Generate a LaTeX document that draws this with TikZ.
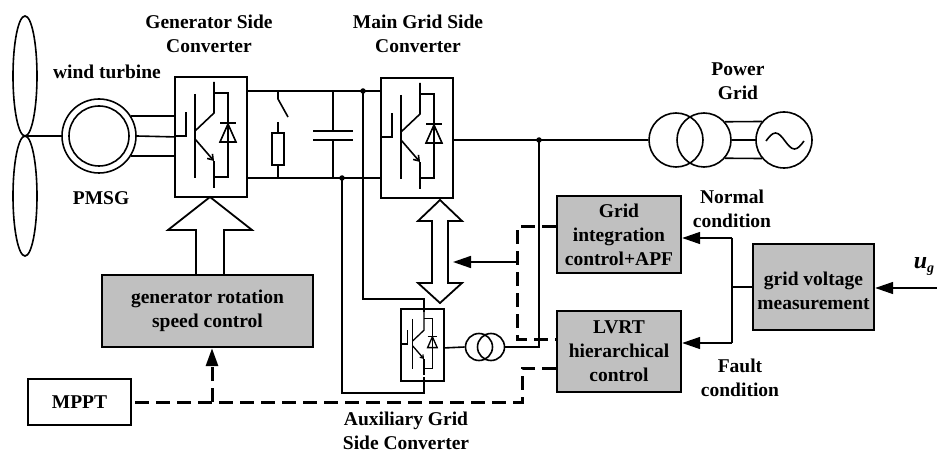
\documentclass[tikz,border=0pt]{standalone}
\usepackage{fontspec}
\setmainfont{Liberation Serif}
\usetikzlibrary{arrows.meta,calc}
\definecolor{boxgray}{RGB}{192,192,192}
\newcommand\igbtdraw[3]{%
\begin{scope}[shift={(#1.north west)}, scale=#2, line width=#3]
 \draw (0,60)--(12,60)--(12,36);
 \draw (21,18)--(21,102);
 \draw (21,55)--(40,37)--(40,6);
 \draw[-{Straight Barb[length=5pt,width=7pt,scale=#2]}] (21,63)--(40,85);
 \draw (40,85)--(40,112);
 \draw (40,17)--(54,17)--(54,101)--(40,101);
 \draw (46,66)--(62,66)--(54,48)--cycle;
 \draw (46,47)--(62,47);
\end{scope}}
\begin{document}
\begin{tikzpicture}[x=1pt,y=-1pt, line width=1.6pt,
  lbl/.style={font=\bfseries\fontsize{19.5}{24}\selectfont, align=center, inner sep=0pt},
  conv/.style={draw, line width=1.8pt, anchor=north west, inner sep=0pt},
  ctrl/.style={draw, line width=2.4pt, fill=boxgray, font=\bfseries\fontsize{19.5}{24}\selectfont, align=center, inner sep=0pt},
  dsh/.style={line width=3pt, dash pattern=on 14pt off 7pt},
  arr/.style={-{Triangle[length=18pt,width=12pt]}},
  dot/.style={circle, fill, inner sep=0pt, minimum size=5.5pt}
  ]
\useasboundingbox[fill=white] (0,0) rectangle (937,457);

% wind turbine
\draw (25,76) ellipse [x radius=12pt, y radius=60pt];
\draw (25,196) ellipse [x radius=12pt, y radius=60pt];
\coordinate (hub) at (25,136);
\node[circle, draw, minimum size=74pt, inner sep=0pt] (gen) at (99,136) {};
\draw (gen.center) circle[radius=30pt];
\draw (hub) -- (gen.west);

% converters
\node[conv, minimum width=72pt, minimum height=120pt] (gsc) at (174,76) {};
\igbtdraw{gsc}{1}{1.6pt}
\node[conv, minimum width=72pt, minimum height=120pt] (mgsc) at (380,77) {};
\igbtdraw{mgsc}{1}{1.6pt}
\node[conv, minimum width=43.2pt, minimum height=72pt] (agsc) at (400,308) {};
\igbtdraw{agsc}{0.6}{1.3pt}
\coordinate (ac) at ($(agsc.north west)+(24,0)$);
\coordinate (ae) at ($(agsc.south west)+(24,0)$);
\draw[line width=1.3pt] (ac) -- ++(0,4);
\draw[line width=1.3pt] (ae) -- ++(0,-5);

% generator to GSC
\draw (gen.32.7) -- (gen.32.7 -| gsc.west);
\draw (gen.east) -- (gsc.west);
\draw (gen.-32.7) -- (gen.-32.7 -| gsc.west);

% DC link
\coordinate (tb) at (0,91);
\coordinate (bb) at (0,178);
\draw (gsc.east |- tb) -- (mgsc.west |- tb);
\draw (gsc.east |- bb) -- (mgsc.west |- bb);
\draw (278,91) -- (278,99) -- (288,117);
\draw (278,122) -- (278,133);
\draw (272,133) rectangle (284,165);
\draw (278,165) -- (278,178);
\draw (333,91) -- (333,131);
\draw (313,131) -- (353,131);
\draw (313,140) -- (353,140);
\draw (333,140) -- (333,178);
\node[dot] (j1) at (363,91) {};
\node[dot] (j2) at (342,178) {};
\draw (j1.center) -- (363,299) -- (ac |- 0,299) -- (ac);
\draw (j2.center) -- (342,393) -- (ae |- 0,393) -- (ae);

% grid side
\node[circle, draw, minimum size=54pt, inner sep=0pt] (tr1) at (676,140) {};
\node[circle, draw, minimum size=54pt, inner sep=0pt] (tr2) at (704,140) {};
\node[circle, draw, minimum size=56pt, inner sep=0pt] (src) at (784,140) {};
\draw (766,141) sin (775.5,133) cos (785,141) sin (794.5,149) cos (804,141);
\draw (tr2.41.8) -- (src.140);
\draw (tr2.east) -- (src.west);
\draw (tr2.-41.8) -- (src.220);
\node[dot] (j3) at (539,140) {};
\draw (mgsc.east |- tr1.west) -- (tr1.west);

% auxiliary transformer
\node[circle, draw, minimum size=27pt, inner sep=0pt] (st1) at (479,347) {};
\node[circle, draw, minimum size=27pt, inner sep=0pt] (st2) at (491,347) {};
\draw ($(agsc.east)+(0,3)$) -- (st1.west);
\coordinate (sj) at (539,347);
\draw (st2.east) -- (sj) -- (j3.center);

% hollow arrows
\draw[fill=white, line width=1.8pt] (196,275) -- (196,230) -- (168,230) -- (210,197) -- (252,230) -- (224,230) -- (224,275);
\draw[fill=white, line width=1.8pt] (440,200) -- (462,221) -- (448,221) -- (448,283) -- (462,283) -- (440,303) -- (418,283) -- (432,283) -- (432,221) -- (418,221) -- cycle;

% control boxes
\node[ctrl, minimum width=124pt, minimum height=77pt] (gint) at (619,234.5) {Grid\\integration\\control+APF};
\node[ctrl, minimum width=124pt, minimum height=81pt] (lvrt) at (619,351.5) {LVRT\\hierarchical\\control};
\node[ctrl, minimum width=121pt, minimum height=86pt] (gvm) at (813.5,287) {\raisebox{-6pt}[\height][\depth]{\begin{tabular}{@{}c@{}}grid voltage\\measurement\end{tabular}}};
\node[ctrl, minimum width=211pt, minimum height=72pt] (grsc) at (207.5,311) {generator rotation\\speed control};
\node[draw, line width=2pt, minimum width=103pt, minimum height=46pt, inner sep=0pt, font=\bfseries\fontsize{19.5}{24}\selectfont] (mppt) at (79.5,402) {MPPT};

% measurement branching
\coordinate (ugin) at (937,288);
\draw[arr] (ugin) -- (gvm.east |- ugin);
\coordinate (nsplit) at (732,238);
\coordinate (fsplit) at (732,343);
\draw (gvm.west) -- (gvm.west -| nsplit);
\draw (nsplit) -- (fsplit);
\draw[arr] (nsplit) -- (nsplit -| gint.east);
\draw[arr] (fsplit) -- (fsplit -| lvrt.east);

% dashed signals
\coordinate (d1) at (517,227);
\coordinate (d2) at (517,339);
\draw[dsh] (gint.west |- d1) -- (d1) -- (d2) -- (d2 -| lvrt.west);
\coordinate (d3) at (522,368);
\coordinate (d4) at (522,402);
\draw[dsh] (lvrt.west |- d3) -- (d3) -- (d4) -- (mppt.east |- d4);
\coordinate (darr) at (517,262);
\coordinate (dtip) at (453,262);
\draw[arr] (darr) -- (dtip);
\coordinate (mp) at (212,402);
\draw[dsh, arr] (mp) -- (mp |- grsc.south);

% labels
\node[lbl] (lgsc) at (209,34) {Generator Side\\Converter};
\node[lbl] (lmgsc) at (418,34) {Main Grid Side\\Converter};
\node[lbl] (lwt) at (107,72) {wind turbine};
\node[lbl] (lpmsg) at (101,198) {PMSG};
\node[lbl] (lpg) at (738,81) {Power\\Grid};
\node[lbl] (lnc) at (732,209) {Normal\\condition};
\node[lbl] (lfc) at (740,378) {Fault\\condition};
\node[lbl] (laux) at (406,431) {Auxiliary Grid\\Side Converter};
\node[anchor=base west, inner sep=0pt, font=\fontsize{24}{24}\selectfont] (lug) at (913,268) {\textbf{\textit{u}}\raisebox{-5pt}{\fontsize{14}{14}\selectfont\textbf{\textit{g}}}};
\end{tikzpicture}
\end{document}
